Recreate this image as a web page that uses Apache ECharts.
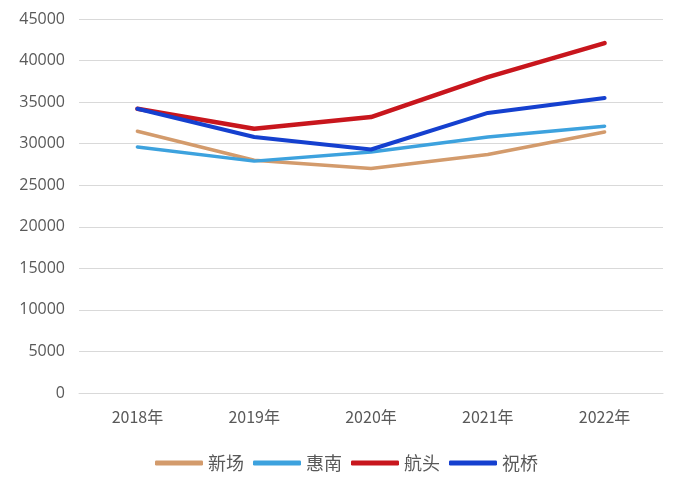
<!DOCTYPE html>
<html><head><meta charset="utf-8">
<script src="https://cdn.jsdelivr.net/npm/echarts@6/dist/echarts.min.js"></script>
<style>html,body{margin:0;padding:0;background:#fff}#c{width:677px;height:495px}</style>
</head><body><div id="c"></div>
<script>
const categories = ['2018年','2019年','2020年','2021年','2022年'];
const xinchang = [31500, 28000, 27000, 28700, 31400];
const huinan = [29600, 27900, 29000, 30800, 32100];
const hangtou = [34200, 31800, 33200, 38000, 42100];
const zhuqiao = [34200, 30800, 29300, 33700, 35500];
const seriesNames = ['新场','惠南','航头','祝桥'];
const colors = ['#D39B6C','#3DA2DE','#C8161D','#1540CF'];
const widths = [3.5, 3.5, 4.5, 4];
const dataList = [xinchang, huinan, hangtou, zhuqiao];

const chart = echarts.init(document.getElementById('c'));
chart.setOption({
  animation: false,
  textStyle: {fontFamily: '"Noto Sans CJK SC", "Noto Sans", sans-serif'},
  grid: {left: 79, right: 14, top: 19, bottom: 102},
  legend: {
    bottom: 18, left: 150, itemWidth: 48, itemHeight: 5, itemGap: 9,
    icon: 'roundRect',
    textStyle: {color: '#595959', fontSize: 18, fontFamily: '"Noto Sans CJK SC", sans-serif'},
    data: seriesNames
  },
  xAxis: {
    type: 'category', data: categories, boundaryGap: true,
    axisLine: {show: true, lineStyle: {color: '#d9d9d9'}},
    axisTick: {show: false},
    axisLabel: {color: '#595959', fontSize: 16, margin: 16, fontFamily: '"Noto Sans CJK SC", sans-serif'}
  },
  yAxis: {
    type: 'value', min: 0, max: 45000, interval: 5000,
    axisLine: {show: false}, axisTick: {show: false},
    axisLabel: {color: '#595959', fontSize: 16, margin: 14, formatter: v => String(v), fontFamily: '"Open Sans", "Noto Sans", sans-serif'},
    splitLine: {lineStyle: {color: '#d9d9d9', width: 1}}
  },
  series: seriesNames.map((n, i) => ({
    name: n, type: 'line', data: dataList[i], symbol: 'none',
    itemStyle: {color: colors[i]},
    lineStyle: {color: colors[i], width: widths[i], cap: 'round', join: 'round'}
  }))
});
</script></body></html>
